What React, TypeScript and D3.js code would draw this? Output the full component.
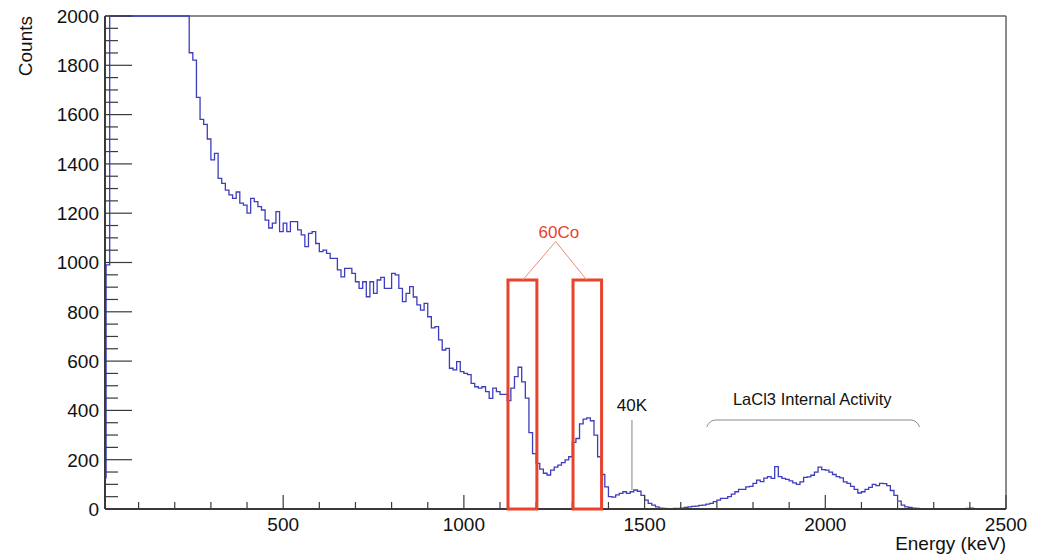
import { useEffect } from "react";
import * as d3 from "d3";

// spectrum, 10 keV bins starting at 0 keV
const binWidth = 10;
const counts = [
  // 0 - 230 keV (bins 2..23 are off scale, drawn clipped at 2000)
  126, 990, 4800, 8200, 9600, 9100, 8300, 7400, 6600, 5900,
  5300, 4800, 4400, 4000, 3700, 3400, 3100, 2900, 2700, 2550,
  2400, 2300, 2200, 2100,
  // 240 - 510 keV
  1851, 1821, 1670, 1581, 1560, 1501, 1416, 1443, 1341, 1321,
  1294, 1274, 1260, 1286, 1241, 1233, 1200, 1260, 1247, 1227,
  1213, 1172, 1140, 1160, 1206, 1125, 1160, 1125,
  // 520 - 850 keV
  1166, 1166, 1132, 1112, 1064, 1118, 1125, 1077, 1044, 1050,
  1037, 1017, 1017, 970, 942, 976, 976, 956, 922, 895,
  922, 861, 922, 875, 929, 940, 895, 895, 956, 950,
  895, 841, 875, 902,
  // 860 - 1090 keV
  860, 828, 807, 834, 780, 735, 740, 686, 645, 652,
  571, 564, 598, 557, 550, 545, 510, 496, 490, 496,
  476, 449, 490, 476,
  // 1100 - 1480 keV
  465, 465, 440, 490, 537, 575, 516, 450, 310, 225,
  185, 162, 145, 138, 158, 170, 178, 188, 199, 212,
  270, 286, 345, 365, 370, 358, 300, 212, 140, 90,
  50, 48, 57, 63, 70, 63, 70, 77, 72,
  // 1490 - 1840 keV
  55, 36, 23, 16, 9, 3, 2, 1, 1, 2,
  2, 3, 6, 9, 11, 12, 15, 16, 20, 23,
  30, 36, 43, 43, 50, 60, 70, 80, 80, 90,
  92, 104, 117, 111, 125, 131,
  // 1850 - 2240 keV
  124, 172, 131, 124, 120, 114, 106, 100, 110, 128,
  130, 137, 150, 170, 160, 158, 150, 140, 131, 126,
  110, 104, 92, 80, 65, 70, 80, 88, 100, 95,
  104, 103, 95, 75, 55, 32, 16, 9, 6, 3,
  // 2250 - 2490 keV
  2, 1, 1, 1, 0, 1, 0, 1, 0, 0,
  1, 0, 0, 0, 2, 3, 1, 0, 0, 0,
  0, 0, 0, 0, 0,
];

const xMajor = [500, 1000, 1500, 2000, 2500];
const yMajor = [0, 200, 400, 600, 800, 1000, 1200, 1400, 1600, 1800, 2000];

// annotation anchors in data units (keV, counts)
const coBoxes = [
  [1122, 1202],
  [1302, 1381],
];
const coBoxTop = 929;
const coLabel = { e: 1263, c: 1100 };
const coApex = { e: 1254, c: 1085 };
const coFeet = [1163, 1340];
const kLabel = { e: 1423, c: 398 };
const kLine = { e: 1465, c0: 361, c1: 77 };
const laLabel = { e: 1964, c: 422 };
const laBrace = { e0: 1672, e1: 2261, cTop: 361, cEnd: 333 };

const W = 1040;
const H = 555;
const left = 105;
const right = 1006;
const top = 16;
const bottom = 509;
const font = "'Liberation Sans', Arial, Helvetica, sans-serif";

export default function App() {
  useEffect(() => {
    document.body.style.margin = "0";
  }, []);

  const x = d3.scaleLinear().domain([7, 2500]).range([left, right]);
  const y = d3.scaleLinear().domain([0, 2000]).range([bottom, top]).clamp(true);

  const edges = counts.map((c, i) => ({ e: i * binWidth, c }));
  edges.push({ e: counts.length * binWidth, c: counts[counts.length - 1] });
  const histLine = d3
    .line<{ e: number; c: number }>()
    .x((d) => x(d.e))
    .y((d) => y(d.c))
    .curve(d3.curveStepAfter);

  const yMinor = d3.range(0, 2001, 50).filter((v) => v % 200 !== 0);
  const xMinor = d3.range(100, 2500, 100).filter((v) => v % 500 !== 0);

  const axisColor = "#3a3a3a";
  const red = "#e8432c";

  const braceY = y(laBrace.cTop);
  const braceEnd = y(laBrace.cEnd);
  const bx0 = x(laBrace.e0);
  const bx1 = x(laBrace.e1);
  const bracePath = `M${bx0},${braceEnd} Q${bx0 + 3},${braceY} ${bx0 + 9},${braceY} L${bx1 - 9},${braceY} Q${bx1 - 3},${braceY} ${bx1},${braceEnd}`;

  return (
    <svg
      width={W}
      height={H}
      style={{ position: "absolute", left: 0, top: 0, background: "#fff" }}
      fontFamily={font}
    >
      <defs>
        <clipPath id="plot">
          <rect x={left} y={top - 1} width={right - left} height={bottom - top + 2} />
        </clipPath>
      </defs>

      {/* frame */}
      <line x1={left} x2={right} y1={top} y2={top} stroke="#666" strokeWidth={1.5} />
      <line x1={right} x2={right} y1={top} y2={bottom} stroke="#666" strokeWidth={1.5} />

      {/* histogram */}
      <path
        d={histLine(edges) || ""}
        fill="none"
        stroke="#3d3dbd"
        strokeWidth={1.3}
        clipPath="url(#plot)"
      />

      {/* y axis */}
      <line x1={left} x2={left} y1={top} y2={bottom} stroke={axisColor} strokeWidth={2} />
      {yMajor.map((v) => (
        <g key={"ym" + v}>
          <line x1={left} x2={left + 27} y1={y(v)} y2={y(v)} stroke={axisColor} strokeWidth={1.2} />
          <text x={99} y={y(v)} dy="0.36em" textAnchor="end" fontSize={19} fill="#111">
            {v}
          </text>
        </g>
      ))}
      {yMinor.map((v) => (
        <line key={"yn" + v} x1={left} x2={left + 13} y1={y(v)} y2={y(v)} stroke={axisColor} strokeWidth={1.2} />
      ))}
      <text
        transform={`translate(32,${top}) rotate(-90)`}
        textAnchor="end"
        fontSize={19}
        fill="#111"
      >
        Counts
      </text>

      {/* x axis */}
      <line x1={left} x2={right} y1={bottom} y2={bottom} stroke={axisColor} strokeWidth={2} />
      {xMajor.map((v) => (
        <g key={"xm" + v}>
          <line x1={x(v)} x2={x(v)} y1={bottom} y2={bottom - 14} stroke={axisColor} strokeWidth={1.2} />
          <text x={x(v)} y={531} textAnchor="middle" fontSize={19} fill="#111">
            {v}
          </text>
        </g>
      ))}
      {xMinor.map((v) => (
        <line key={"xn" + v} x1={x(v)} x2={x(v)} y1={bottom} y2={bottom - 7} stroke={axisColor} strokeWidth={1.2} />
      ))}
      <text x={right} y={550} textAnchor="end" fontSize={19} fill="#111">
        Energy (keV)
      </text>

      {/* 60Co annotation */}
      {coBoxes.map(([e0, e1], i) => (
        <rect
          key={"box" + i}
          x={x(e0)}
          y={y(coBoxTop)}
          width={x(e1) - x(e0)}
          height={bottom - y(coBoxTop)}
          fill="none"
          stroke={red}
          strokeWidth={3}
        />
      ))}
      {coFeet.map((e, i) => (
        <line
          key={"foot" + i}
          x1={x(coApex.e)}
          y1={y(coApex.c)}
          x2={x(e)}
          y2={y(coBoxTop)}
          stroke="#ef8a76"
          strokeWidth={1}
        />
      ))}
      <text x={x(coLabel.e)} y={y(coLabel.c)} textAnchor="middle" fontSize={17} fill={red}>
        60Co
      </text>

      {/* 40K annotation */}
      <line x1={x(kLine.e)} x2={x(kLine.e)} y1={y(kLine.c0)} y2={y(kLine.c1)} stroke="#999" strokeWidth={1.2} />
      <text x={x(kLabel.e)} y={y(kLabel.c)} fontSize={17} fill="#111">
        40K
      </text>

      {/* LaCl3 annotation */}
      <path d={bracePath} fill="none" stroke="#8a8a8a" strokeWidth={1} />
      <text x={x(laLabel.e)} y={y(laLabel.c)} textAnchor="middle" fontSize={16.5} fill="#111">
        LaCl3 Internal Activity
      </text>
    </svg>
  );
}
